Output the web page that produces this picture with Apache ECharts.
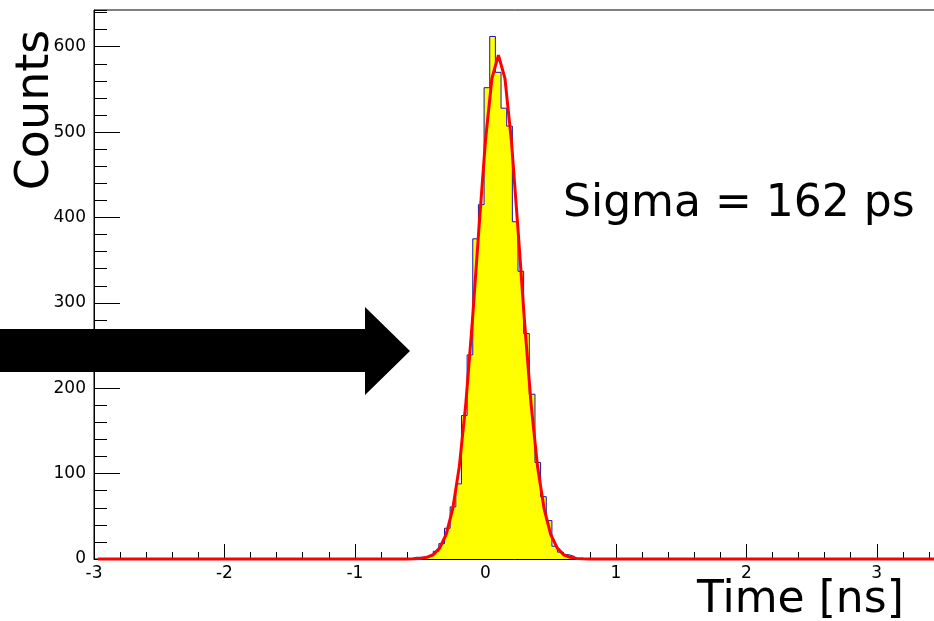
<!DOCTYPE html>
<html><head><meta charset="utf-8">
<script src="https://cdn.jsdelivr.net/npm/echarts/dist/echarts.min.js"></script>
<style>html,body{margin:0;padding:0;background:#fff}#c{width:934px;height:621px}</style>
</head><body><div id="c"></div>
<script>
// Histogram definition (ROOT-style: 150 bins from -3 to 3.5 ns)
const histStart = -3;
const histEnd = 3.5;
const nBins = 150;
const firstBin = 56; // index of first non-empty bin
const counts = [2, 2, 2, 4, 9, 18, 36, 61, 88, 168, 239, 375, 415, 552, 612, 570, 528, 507, 395, 337, 264, 193, 113, 73, 45, 15, 8, 5, 3];

// Gaussian fit curve
const fitX = [-2.97, -0.6, -0.55, -0.5, -0.45, -0.4, -0.35, -0.3, -0.25, -0.2, -0.15, -0.1, -0.05, 0, 0.05, 0.1, 0.15, 0.2, 0.25, 0.3, 0.35, 0.4, 0.45, 0.5, 0.55, 0.6, 0.65, 0.7, 0.75, 0.8, 3.5];
const fitY = [0, 0, 0.2, 0.7, 2, 5, 13, 29, 59, 108, 182, 278, 386, 489, 563, 590, 563, 489, 386, 278, 182, 108, 59, 29, 13, 5, 2, 0.7, 0.2, 0, 0];

const xMin = -3, xMax = 3.5, xMajor = 1, xMinor = 0.2;
const yMin = 0, yMax = 643, yMajor = 100, yMinor = 20;

const xTitle = 'Time [ns]';
const yTitle = 'Counts';
const note = 'Sigma = 162 ps';

const binW = (histEnd - histStart) / nBins;
const histData = [[histStart + firstBin * binW, 0]];
counts.forEach((c, i) => histData.push([histStart + (firstBin + i) * binW, c]));
histData.push([histStart + (firstBin + counts.length) * binW, 0]);
const fitData = fitX.map((x, i) => [x, fitY[i]]);

const font = '"DejaVu Sans", sans-serif';
const chart = echarts.init(document.getElementById('c'), null, {renderer: 'canvas'});
chart.setOption({
  animation: false,
  backgroundColor: '#fff',
  grid: {left: 94, top: 10, width: 848, height: 549, outerBoundsMode: 'none', containLabel: false,
         show: true, borderColor: '#000', borderWidth: 1, backgroundColor: 'transparent'},
  xAxis: [
    {type: 'value', min: xMin, max: xMax, interval: xMajor, position: 'bottom',
     axisLine: {show: true, onZero: false, lineStyle: {color: '#000', width: 1}},
     axisTick: {show: true, inside: true, length: 15, lineStyle: {color: '#000', width: 1}},
     axisLabel: {showMaxLabel: false, margin: 6, fontFamily: font, fontSize: 17, color: '#000'},
     splitLine: {show: false}},
    {type: 'value', min: xMin, max: xMax, interval: xMinor, position: 'bottom',
     axisLine: {show: false, onZero: false}, axisLabel: {show: false}, splitLine: {show: false},
     axisTick: {show: true, inside: true, length: 7, lineStyle: {color: '#000', width: 1}}}
  ],
  yAxis: [
    {type: 'value', min: yMin, max: yMax, interval: yMajor, position: 'left',
     axisLine: {show: true, onZero: false, lineStyle: {color: '#000', width: 1}},
     axisTick: {show: true, inside: true, length: 26, lineStyle: {color: '#000', width: 1}},
     axisLabel: {showMaxLabel: false, margin: 8, fontFamily: font, fontSize: 17, color: '#000'},
     splitLine: {show: false}},
    {type: 'value', min: yMin, max: yMax, interval: yMinor, position: 'left',
     axisLine: {show: false, onZero: false}, axisLabel: {show: false}, splitLine: {show: false},
     axisTick: {show: true, inside: true, length: 13, lineStyle: {color: '#000', width: 1}}}
  ],
  series: [
    {type: 'line', xAxisIndex: 0, yAxisIndex: 0, data: histData, step: 'end', symbol: 'none',
     lineStyle: {color: '#1414b8', width: 1}, areaStyle: {color: '#ffff00', opacity: 1}, z: 2},
    {type: 'line', xAxisIndex: 0, yAxisIndex: 0, data: fitData, symbol: 'none', smooth: false, clip: false,
     lineStyle: {color: '#ff0000', width: 3}, z: 3}
  ],
  graphic: [
    {type: 'polygon', z: 100, shape: {points: [[0, 329], [365, 329], [365, 307], [410, 351], [365, 395], [365, 372], [0, 372]]}, style: {fill: '#000'}},
    {type: 'text', z: 100, x: 563, y: 205, style: {text: note, font: '44px ' + font, fill: '#000', align: 'left', verticalAlign: 'middle'}},
    {type: 'text', z: 100, x: 697, y: 601, style: {text: xTitle, font: '44px ' + font, fill: '#000', align: 'left', verticalAlign: 'middle'}},
    {type: 'text', z: 100, x: 36, y: 110, rotation: Math.PI / 2, style: {text: yTitle, font: '46px ' + font, fill: '#000', align: 'center', verticalAlign: 'middle'}}
  ]
});
</script>
</body></html>
